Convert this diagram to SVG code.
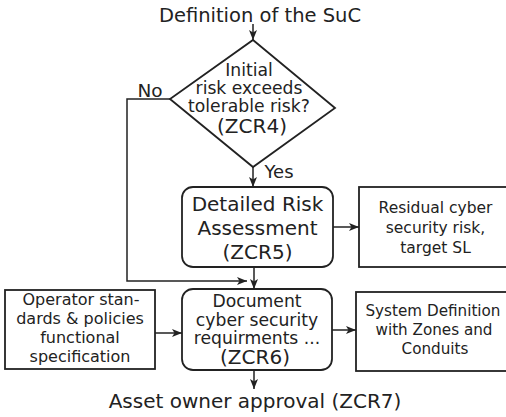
<svg xmlns="http://www.w3.org/2000/svg" width="506" height="417" viewBox="0 0 506 417">
<style>
text{font-family:"DejaVu Sans","Verdana",sans-serif;fill:#222;text-anchor:middle}
.box{fill:#fff;stroke:#222;stroke-width:1.8}
.ln{fill:none;stroke:#222;stroke-width:1.5}
</style>
<defs>
<marker id="ah" viewBox="0 0 10 8" refX="10" refY="4" markerWidth="10" markerHeight="8" markerUnits="userSpaceOnUse" orient="auto">
<path d="M0,0 L10,4 L0,8 L2.5,4 z" fill="#222"/>
</marker>
</defs>
<rect width="506" height="417" fill="#fff"/>
<g id="start"><text x="260" y="22" font-size="19.5">Definition of the SuC</text></g>
<g id="decision">
<polygon class="box" points="253,40 335,108 253,167 170,99"/>
<text x="249" y="76" font-size="17.2">Initial</text>
<text x="249" y="94" font-size="17.2">risk exceeds</text>
<text x="249" y="112" font-size="17.2">tolerable risk?</text>
<text x="252" y="133" font-size="20">(ZCR4)</text>
</g>
<g id="dra">
<rect class="box" x="182" y="187" width="151" height="80" rx="11"/>
<text x="257.5" y="211" font-size="20">Detailed Risk</text>
<text x="257.5" y="235" font-size="20">Assessment</text>
<text x="257.5" y="259" font-size="20">(ZCR5)</text>
</g>
<g id="residual">
<rect class="box" x="359" y="187" width="160" height="80"/>
<text x="435.5" y="213" font-size="15.5">Residual cyber</text>
<text x="435.5" y="233" font-size="15.5">security risk,</text>
<text x="435.5" y="253" font-size="15.5">target SL</text>
</g>
<g id="operator">
<rect class="box" x="5" y="290" width="150" height="79"/>
<text x="81" y="305" font-size="16">Operator stan-</text>
<text x="80" y="324" font-size="16">dards &amp; policies</text>
<text x="80" y="343" font-size="16">functional</text>
<text x="80" y="362" font-size="16">specification</text>
</g>
<g id="document">
<rect class="box" x="182" y="289" width="150" height="81" rx="11"/>
<text x="257" y="307" font-size="17.2">Document</text>
<text x="257" y="326" font-size="17.2">cyber security</text>
<text x="257" y="344" font-size="17.2">requirments ...</text>
<text x="255" y="364" font-size="20">(ZCR6)</text>
</g>
<g id="system">
<rect class="box" x="356" y="292" width="160" height="79"/>
<text x="433" y="316" font-size="15.2">System Definition</text>
<text x="434" y="335" font-size="15.2">with Zones and</text>
<text x="435" y="354" font-size="15.2">Conduits</text>
</g>
<g id="approval"><text x="255" y="408" font-size="20">Asset owner approval (ZCR7)</text></g>
<g id="connectors">
<line class="ln" x1="253" y1="24" x2="253" y2="40" marker-end="url(#ah)"/>
<line class="ln" x1="253" y1="167" x2="253" y2="187" marker-end="url(#ah)"/>
<text x="279" y="178" font-size="18">Yes</text>
<polyline class="ln" points="170,99 127,99 127,281 247,281" marker-end="url(#ah)"/>
<text x="150" y="97" font-size="18.5">No</text>
<line class="ln" x1="254" y1="267" x2="254" y2="289" marker-end="url(#ah)"/>
<line class="ln" x1="333" y1="227" x2="359" y2="227" marker-end="url(#ah)"/>
<line class="ln" x1="155" y1="333" x2="182" y2="333" marker-end="url(#ah)"/>
<line class="ln" x1="332" y1="330" x2="356" y2="330" marker-end="url(#ah)"/>
<line class="ln" x1="254" y1="370" x2="254" y2="389" marker-end="url(#ah)"/>
</g>
</svg>
